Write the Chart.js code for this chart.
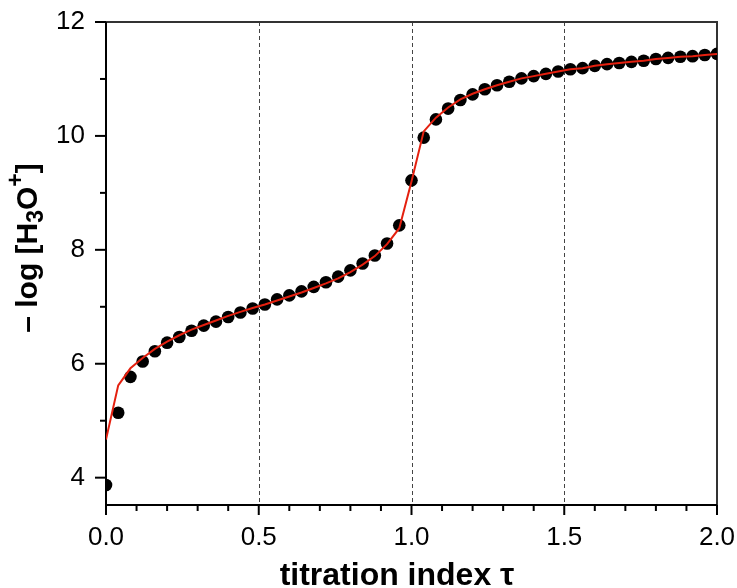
<!DOCTYPE html>
<html>
<head>
<meta charset="utf-8">
<script src="https://cdn.jsdelivr.net/npm/chart.js@4"></script>
<style>
  html, body { margin: 0; padding: 0; background: #fff; }
  #wrap { width: 737px; height: 588px; position: relative; }
</style>
</head>
<body>
<div id="wrap"><canvas id="titration"></canvas></div>
<script>
// titration index values (every 0.04)
const tau = [0.00, 0.04, 0.08, 0.12, 0.16, 0.20, 0.24, 0.28, 0.32, 0.36,
             0.40, 0.44, 0.48, 0.52, 0.56, 0.60, 0.64, 0.68, 0.72, 0.76,
             0.80, 0.84, 0.88, 0.92, 0.96, 1.00, 1.04, 1.08, 1.12, 1.16,
             1.20, 1.24, 1.28, 1.32, 1.36, 1.40, 1.44, 1.48, 1.52, 1.56,
             1.60, 1.64, 1.68, 1.72, 1.76, 1.80, 1.84, 1.88, 1.92, 1.96, 2.00];

// measured -log[H3O+] (black dots)
const measured = [3.87, 5.14, 5.77, 6.04, 6.22, 6.37, 6.47, 6.58, 6.67, 6.74,
                  6.82, 6.90, 6.97, 7.04, 7.13, 7.20, 7.27, 7.35, 7.43, 7.53,
                  7.64, 7.76, 7.90, 8.11, 8.43, 9.22, 9.97, 10.29, 10.48, 10.63,
                  10.73, 10.82, 10.89, 10.95, 11.01, 11.05, 11.09, 11.13, 11.17, 11.19,
                  11.23, 11.26, 11.28, 11.30, 11.32, 11.35, 11.37, 11.39, 11.40, 11.42, 11.44];

// fitted curve (red line)
const fitted = [4.67, 5.62, 5.92, 6.10, 6.26, 6.39, 6.50, 6.60, 6.68, 6.76,
                6.84, 6.91, 6.98, 7.04, 7.11, 7.18, 7.25, 7.33, 7.41, 7.50,
                7.61, 7.74, 7.89, 8.10, 8.38, 9.20, 10.08, 10.32, 10.50, 10.64,
                10.74, 10.82, 10.89, 10.95, 11.01, 11.05, 11.09, 11.13, 11.17, 11.19,
                11.23, 11.26, 11.28, 11.30, 11.32, 11.35, 11.37, 11.39, 11.40, 11.42, 11.44];

const xTickLabels = ['0.0', '0.5', '1.0', '1.5', '2.0'];
const yTickLabels = ['4', '6', '8', '10', '12'];
const xTitle = 'titration index τ';

const FONT = "'Liberation Sans', Arial, Helvetica, sans-serif";

// keep the plot box fixed: drop the label overflow padding
function noOverflow(s) {
  s.paddingLeft = 0;
  s.paddingRight = 0;
  s.paddingTop = 0;
  s.paddingBottom = 0;
}

// frame, dashed guides, major/minor ticks and axis titles
const framePlugin = {
  id: 'frame',
  beforeDatasetsDraw(chart) {
    const { ctx, chartArea: a, scales: { x, y } } = chart;
    ctx.save();

    ctx.strokeStyle = '#444';
    ctx.lineWidth = 1;
    ctx.setLineDash([4, 3]);
    [0.5, 1.0, 1.5].forEach(v => {
      const px = Math.round(x.getPixelForValue(v)) + 0.5;
      ctx.beginPath();
      ctx.moveTo(px, a.top);
      ctx.lineTo(px, a.bottom);
      ctx.stroke();
    });
    ctx.setLineDash([]);

    ctx.lineWidth = 2;
    ctx.strokeStyle = '#333';
    ctx.beginPath();
    ctx.moveTo(a.left, a.top);
    ctx.lineTo(a.right, a.top);
    ctx.lineTo(a.right, a.bottom);
    ctx.stroke();

    ctx.strokeStyle = '#000';
    ctx.beginPath();
    ctx.moveTo(a.left, a.top);
    ctx.lineTo(a.left, a.bottom);
    ctx.lineTo(a.right, a.bottom);
    ctx.stroke();

    // x ticks every 0.1, longer at 0.5
    for (let i = 0; i <= 20; i++) {
      const px = x.getPixelForValue(i / 10);
      const len = i % 5 === 0 ? 10 : 6;
      ctx.beginPath();
      ctx.moveTo(px, a.bottom);
      ctx.lineTo(px, a.bottom + len);
      ctx.stroke();
    }
    // y ticks every 1, longer at even values
    for (let v = 4; v <= 12; v++) {
      const py = y.getPixelForValue(v);
      const len = v % 2 === 0 ? 11 : 6;
      ctx.beginPath();
      ctx.moveTo(a.left - len, py);
      ctx.lineTo(a.left, py);
      ctx.stroke();
    }
    ctx.restore();
  },
  afterDraw(chart) {
    const { ctx } = chart;
    ctx.save();
    ctx.fillStyle = '#000';

    // x title
    ctx.font = 'bold 32px ' + FONT;
    ctx.textAlign = 'center';
    ctx.textBaseline = 'alphabetic';
    ctx.fillText(xTitle, 397, 585);

    // y title with sub/superscript
    const size = 30;
    const parts = [
      { t: '\u2013 log [H', s: 1, dy: 0 },
      { t: '3', s: 0.75, dy: 6 },
      { t: 'O', s: 1, dy: 0 },
      { t: '+', s: 0.75, dy: -14 },
      { t: ']', s: 1, dy: 0 }
    ];
    let total = 0;
    parts.forEach(p => {
      ctx.font = 'bold ' + Math.round(size * p.s) + 'px ' + FONT;
      p.w = ctx.measureText(p.t).width;
      total += p.w;
    });
    ctx.translate(37, 248);
    ctx.rotate(-Math.PI / 2);
    ctx.textAlign = 'left';
    let cx = -total / 2;
    parts.forEach(p => {
      ctx.font = 'bold ' + Math.round(size * p.s) + 'px ' + FONT;
      ctx.fillText(p.t, cx, p.dy);
      cx += p.w;
    });
    ctx.restore();
  }
};

const ctx = document.getElementById('titration').getContext('2d');
const chart = new Chart(ctx, {
  type: 'scatter',
  data: {
    datasets: [
      {
        label: 'fit',
        data: tau.map((t, i) => ({ x: t, y: fitted[i] })),
        showLine: true,
        borderColor: '#e4200f',
        borderWidth: 2,
        pointRadius: 0,
        tension: 0,
        fill: false
      },
      {
        label: 'measured',
        data: tau.map((t, i) => ({ x: t, y: measured[i] })),
        showLine: false,
        pointRadius: 6.3,
        pointBackgroundColor: '#000',
        pointBorderWidth: 0,
        pointBorderColor: '#000'
      }
    ]
  },
  options: {
    responsive: true,
    maintainAspectRatio: false,
    animation: false,
    layout: { padding: { top: 22, right: 20, left: 0, bottom: 0 } },
    plugins: {
      legend: { display: false },
      tooltip: { enabled: false }
    },
    scales: {
      x: {
        type: 'linear',
        min: 0,
        max: 2,
        grid: { display: false, drawTicks: false },
        border: { display: false },
        ticks: {
          stepSize: 0.5,
          padding: 17,
          color: '#000',
          font: { family: FONT, size: 26 },
          maxRotation: 0,
          callback: v => xTickLabels[Math.round(v / 0.5)]
        },
        afterFit: s => { s.height = 83; noOverflow(s); }
      },
      y: {
        type: 'linear',
        min: 3.52,
        max: 12,
        grid: { display: false, drawTicks: false },
        border: { display: false },
        ticks: {
          stepSize: 2,
          includeBounds: false,
          padding: 21,
          color: '#000',
          font: { family: FONT, size: 26 },
          callback: v => yTickLabels[Math.round((v - 4) / 2)]
        },
        afterFit: s => { s.width = 106; noOverflow(s); }
      }
    }
  },
  plugins: [framePlugin]
});
</script>
</body>
</html>
